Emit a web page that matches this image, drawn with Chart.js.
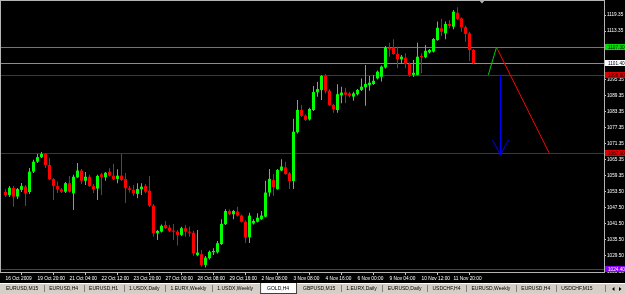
<!DOCTYPE html>
<html>
<head>
<meta charset="utf-8">
<script src="https://cdn.jsdelivr.net/npm/chart.js@4.4.1/dist/chart.umd.min.js"></script>
<style>
html, body { margin: 0; padding: 0; background: #000; overflow: hidden; }
canvas { display: block; }
</style>
</head>
<body>
<canvas id="gold" width="625" height="294"></canvas>
<script>
// GOLD,H4 - one entry per 4 hour bar, 16 Oct 2009 .. 12 Nov 2009
var opens = [
  1053.3, 1052.2, 1054.8, 1051.6, 1054.1, 1055.3, 1053.3, 1060.9, 1064.6, 1066.3,
  1067.5, 1063.4, 1058.1, 1055.5, 1054.3, 1053.4, 1056.6, 1052.8, 1058.8, 1061.3,
  1057.5, 1059.0, 1055.5, 1054.6, 1059.9, 1058.8, 1060.9, 1059.4, 1058.2, 1059.4,
  1058.1, 1054.7, 1054.1, 1052.6, 1054.4, 1055.5, 1053.8, 1048.2, 1037.9, 1038.5,
  1041.0, 1040.0, 1038.9, 1038.5, 1037.3, 1039.8, 1038.5, 1038.1, 1029.8, 1030.1,
  1026.1, 1028.6, 1030.8, 1030.8, 1033.9, 1041.3, 1046.2, 1045.0, 1046.0, 1044.5,
  1042.2, 1036.4, 1041.6, 1042.2, 1043.2, 1044.1, 1053.1, 1057.8, 1054.4, 1061.3,
  1062.5, 1060.3, 1057.4, 1075.6, 1083.9, 1081.8, 1080.4, 1083.9, 1090.5, 1091.4,
  1096.6, 1091.1, 1085.8, 1083.9, 1089.4, 1090.5, 1090.1, 1088.9, 1089.8, 1091.4,
  1092.4, 1093.2, 1093.6, 1095.7, 1096.3, 1099.8, 1107.0, 1107.2, 1104.8, 1102.8,
  1103.4, 1101.1, 1097.0, 1097.0, 1104.1, 1103.6, 1105.4, 1105.7, 1110.0, 1114.4,
  1112.5, 1116.0, 1115.0, 1120.2, 1118.1, 1114.8, 1112.5, 1106.3
];
var highs = [
  1054.4, 1055.5, 1055.5, 1054.8, 1056.7, 1055.9, 1062.3, 1065.3, 1067.5, 1068.2,
  1067.9, 1066.0, 1058.5, 1057.2, 1054.8, 1057.0, 1059.3, 1059.7, 1064.1, 1061.9,
  1060.8, 1059.7, 1056.3, 1059.7, 1060.4, 1060.8, 1062.2, 1063.8, 1061.8, 1067.5,
  1060.4, 1055.5, 1055.9, 1056.6, 1056.6, 1056.3, 1059.3, 1048.8, 1039.1, 1041.2,
  1042.5, 1041.0, 1041.4, 1039.1, 1040.3, 1041.0, 1040.4, 1038.8, 1039.1, 1031.7,
  1029.4, 1031.5, 1032.3, 1035.0, 1043.1, 1046.9, 1046.8, 1046.6, 1047.8, 1044.9,
  1042.7, 1045.6, 1043.1, 1045.4, 1046.2, 1057.5, 1061.9, 1060.0, 1061.9, 1065.5,
  1064.6, 1060.8, 1080.6, 1087.6, 1085.8, 1082.2, 1084.7, 1092.9, 1094.4, 1097.0,
  1097.3, 1091.6, 1086.2, 1093.5, 1092.6, 1092.2, 1090.7, 1090.7, 1091.7, 1095.7,
  1100.7, 1096.6, 1097.0, 1098.6, 1100.5, 1107.8, 1109.0, 1110.3, 1107.5, 1104.4,
  1105.1, 1101.6, 1102.6, 1109.0, 1105.1, 1108.2, 1106.7, 1110.8, 1116.9, 1117.9,
  1116.9, 1117.5, 1121.2, 1122.2, 1118.4, 1115.3, 1113.1, 1106.7
];
var lows = [
  1051.4, 1051.4, 1047.8, 1050.7, 1053.3, 1048.1, 1052.6, 1060.4, 1064.1, 1066.0,
  1062.3, 1057.8, 1050.3, 1052.9, 1052.9, 1052.9, 1053.1, 1046.6, 1058.5, 1056.3,
  1055.9, 1055.2, 1052.9, 1050.3, 1052.2, 1057.5, 1059.1, 1057.8, 1056.6, 1057.4,
  1049.2, 1053.1, 1051.8, 1051.0, 1052.2, 1052.9, 1047.7, 1036.6, 1035.4, 1038.2,
  1039.5, 1038.4, 1035.4, 1033.3, 1036.9, 1036.6, 1036.6, 1029.4, 1029.4, 1025.4,
  1025.1, 1028.1, 1029.8, 1030.4, 1033.5, 1041.0, 1044.6, 1043.1, 1044.2, 1041.9,
  1034.3, 1034.3, 1041.2, 1041.9, 1042.9, 1043.8, 1051.6, 1051.8, 1054.1, 1061.0,
  1059.7, 1054.4, 1054.4, 1075.1, 1081.3, 1079.8, 1080.0, 1083.5, 1088.8, 1087.6,
  1090.1, 1085.4, 1082.9, 1082.9, 1086.4, 1086.4, 1088.6, 1087.4, 1089.3, 1091.0,
  1085.5, 1091.1, 1093.2, 1095.3, 1094.5, 1099.4, 1103.8, 1104.4, 1099.5, 1101.3,
  1099.5, 1096.3, 1096.2, 1096.8, 1097.6, 1103.2, 1105.0, 1105.4, 1109.7, 1111.5,
  1110.3, 1114.4, 1114.0, 1117.5, 1113.1, 1109.4, 1102.2, 1101.1
];
var closes = [
  1052.2, 1054.9, 1051.6, 1054.4, 1055.5, 1052.8, 1060.9, 1064.6, 1066.3, 1067.5,
  1063.4, 1058.1, 1055.5, 1054.3, 1053.4, 1056.6, 1053.4, 1059.0, 1061.3, 1057.5,
  1059.0, 1055.5, 1054.3, 1059.3, 1058.8, 1060.5, 1059.4, 1058.1, 1059.4, 1057.8,
  1054.7, 1054.1, 1052.8, 1054.4, 1055.3, 1053.4, 1048.2, 1037.9, 1038.8, 1040.7,
  1039.8, 1038.8, 1038.5, 1037.3, 1039.8, 1038.5, 1038.1, 1030.4, 1030.7, 1026.1,
  1028.8, 1031.0, 1031.3, 1034.2, 1041.4, 1046.2, 1045.0, 1046.2, 1044.5, 1042.2,
  1036.3, 1044.5, 1042.5, 1043.7, 1044.5, 1053.1, 1058.2, 1055.1, 1061.5, 1062.8,
  1060.0, 1057.4, 1075.8, 1083.9, 1081.7, 1080.2, 1084.3, 1090.6, 1091.7, 1096.6,
  1091.1, 1085.8, 1084.2, 1089.8, 1090.4, 1089.6, 1089.2, 1090.1, 1091.4, 1092.6,
  1093.6, 1094.1, 1094.8, 1098.2, 1100.1, 1107.3, 1106.7, 1104.8, 1102.9, 1103.8,
  1101.1, 1097.0, 1097.8, 1103.8, 1103.6, 1106.0, 1106.3, 1110.4, 1114.6, 1113.1,
  1116.0, 1115.3, 1120.6, 1117.9, 1114.8, 1112.3, 1106.3, 1101.4
];

// time axis: one label every 8 bars
var timeLabels = [
  "16 Oct 2009", "19 Oct 20:00", "21 Oct 04:00", "22 Oct 12:00", "23 Oct 20:00",
  "27 Oct 00:00", "28 Oct 08:00", "29 Oct 16:00", "2 Nov 08:00", "3 Nov 08:00",
  "4 Nov 16:00", "6 Nov 00:00", "9 Nov 04:00", "10 Nov 12:00", "11 Nov 20:00"
];
var barsPerLabel = 8;

var priceTicks = [
  1119.35, 1113.35, 1107.35, 1101.35, 1095.35, 1089.35, 1083.35, 1077.35, 1071.35,
  1065.35, 1059.35, 1053.50, 1047.50, 1041.50, 1035.50, 1029.50, 1023.50
];

// horizontal levels (resistance, bid, support, target, low)
var levelPrices = [1107.30, 1101.40, 1096.90, 1067.90, 1024.40];

// hand drawn projection: small up leg, then the drop to target
var upLegX = [120.7, 122.75];
var upLegY = [1097.0, 1107.3];
var downLegX = [122.75, 135.9];
var downLegY = [1107.3, 1067.9];
var arrowX = 123.75;
var arrowTop = 1097.0;
var arrowBottom = 1067.1;
var arrowWing = 1072.7;

var tabNames = [
  "EURUSD,M15", "EURUSD,H4", "EURUSD,H1", "1.USDX,Daily", "1.EURX,Weekly", "1.USDX,Weekly",
  "GOLD,H4", "GBPUSD,M15", "1.EURX,Daily", "EURUSD,Daily", "USDCHF,H4", "EURUSD,Weekly",
  "EURUSD,H4", "USDCHF,M15"
];
var activeTab = "GOLD,H4";

// ---- styling ----
var FONT = "'Liberation Sans', Arial, sans-serif";
var BULL = '#00ff00';
var BEAR = '#ff0000';
var FRAME = '#b4b4b4';
var levelStyle = [
  { line: '#00c800', box: '#00e000', text: '#000000' },
  { line: '#8c8c8c', box: '#ffffff', text: '#000000' },
  { line: '#7c1c1c', box: '#e00000', text: '#000000' },
  { line: '#7c1c1c', box: '#e00000', text: '#000000' },
  { line: '#8a00ff', box: '#8a00ff', text: '#ffffff' }
];

var barColors = opens.map(function (o, i) { return closes[i] >= o ? BULL : BEAR; });

function pts(xs, ys) {
  return xs.map(function (x, i) { return { x: x, y: ys[i] }; });
}

var mtChrome = {
  id: 'mtChrome',
  beforeDraw: function (chart) {
    var c = chart.ctx;
    c.save();
    c.fillStyle = '#000';
    c.fillRect(0, 0, chart.width, chart.height);
    c.restore();
  },
  beforeDatasetsDraw: function (chart) {
    var c = chart.ctx, a = chart.chartArea, ys = chart.scales.y;
    c.save();
    c.lineWidth = 1;
    levelPrices.forEach(function (p, i) {
      var py = Math.round(ys.getPixelForValue(p)) + 0.5;
      c.strokeStyle = levelStyle[i].line;
      c.beginPath();
      c.moveTo(a.left, py);
      c.lineTo(a.right, py);
      c.stroke();
    });
    c.restore();
  },
  afterDraw: function (chart) {
    var c = chart.ctx, a = chart.chartArea, ys = chart.scales.y, xs = chart.scales.x;
    c.save();

    // frame top / left
    c.strokeStyle = FRAME;
    c.lineWidth = 1;
    c.beginPath();
    c.moveTo(0, 0.5); c.lineTo(a.right, 0.5);
    c.moveTo(0.5, 0); c.lineTo(0.5, a.bottom);
    c.stroke();

    // chart shift marker after the last bar
    var mx = Math.round(xs.getPixelForValue(opens.length + 1));
    c.fillStyle = FRAME;
    c.beginPath();
    c.moveTo(mx - 3, 0); c.lineTo(mx + 3, 0); c.lineTo(mx, 3.5); c.closePath();
    c.fill();

    // price boxes on the right scale
    c.font = '4.7px ' + FONT;
    c.textBaseline = 'middle';
    c.textAlign = 'left';
    levelPrices.forEach(function (p, i) {
      var py = Math.round(ys.getPixelForValue(p));
      c.fillStyle = levelStyle[i].box;
      c.fillRect(a.right + 1, py - 3, chart.width - a.right - 1, 6);
      c.fillStyle = levelStyle[i].text;
      c.fillText(p.toFixed(2), a.right + 4, py + 0.5);
    });

    // tab bar
    var top = chart.height - 11;
    c.fillStyle = '#d4d0c8';
    c.fillRect(0, top, chart.width, 11);
    c.fillStyle = '#ffffff';
    c.fillRect(0, top, chart.width, 1);
    c.font = '5px ' + FONT;
    c.textBaseline = 'middle';
    var x = 6, gap = 11;
    tabNames.forEach(function (name, i) {
      var w = c.measureText(name).width;
      var on = name === activeTab && tabNames.indexOf(name) === i;
      if (on) {
        x += 3;
        c.fillStyle = '#ffffff';
        c.fillRect(x - 7, top, w + 14, 11);
        c.fillStyle = '#404040';
        c.fillRect(x - 7, top, 1, 11);
        c.fillRect(x + w + 7, top, 1, 11);
        c.fillRect(x - 7, chart.height - 1, w + 15, 1);
      }
      c.fillStyle = '#000000';
      c.fillText(name, x, top + 6);
      x += w + (on ? 3 : 0);
      if (i < tabNames.length - 1 && !on && tabNames[i + 1] !== activeTab) {
        c.fillStyle = '#808080';
        c.fillRect(Math.round(x + gap / 2), top + 2, 1, 7);
      }
      x += gap;
    });
    // scroll arrows
    c.fillStyle = '#808080';
    c.fillRect(605, top + 2, 1, 7);
    c.fillStyle = '#000000';
    c.beginPath();
    c.moveTo(612, top + 6); c.lineTo(614.5, top + 4); c.lineTo(614.5, top + 8); c.closePath();
    c.moveTo(621.5, top + 6); c.lineTo(619, top + 4); c.lineTo(619, top + 8); c.closePath();
    c.fill();

    c.restore();
  }
};

Chart.defaults.font.family = FONT;

new Chart(document.getElementById('gold'), {
  type: 'bar',
  data: {
    datasets: [
      {
        type: 'line', label: 'up leg', data: pts(upLegX, upLegY),
        borderColor: '#00d000', borderWidth: 1, pointRadius: 0, fill: false, order: 0
      },
      {
        type: 'line', label: 'down leg', data: pts(downLegX, downLegY),
        borderColor: '#ff0000', borderWidth: 1, pointRadius: 0, fill: false, order: 0
      },
      {
        type: 'line', label: 'arrow', data: pts([arrowX, arrowX], [arrowTop, arrowBottom]),
        borderColor: '#0000ff', borderWidth: 1, pointRadius: 0, fill: false, order: 0
      },
      {
        type: 'line', label: 'arrow head',
        data: pts([arrowX - 2, arrowX, arrowX + 2], [arrowWing, arrowBottom, arrowWing]),
        borderColor: '#0000ff', borderWidth: 1, pointRadius: 0, fill: false, order: 0
      },
      {
        label: 'bodies',
        data: opens.map(function (o, i) { return { x: i, y: [o, closes[i]] }; }),
        backgroundColor: barColors, barThickness: 3, minBarLength: 1,
        grouped: false, inflateAmount: 0, order: 1
      },
      {
        label: 'wicks',
        data: opens.map(function (o, i) { return { x: i, y: [lows[i], highs[i]] }; }),
        backgroundColor: barColors, barThickness: 1,
        grouped: false, inflateAmount: 0, order: 2
      }
    ]
  },
  options: {
    responsive: false,
    animation: false,
    devicePixelRatio: 1,
    events: [],
    layout: { padding: { left: 0, right: 0, top: 0, bottom: 11 } },
    plugins: { legend: { display: false }, tooltip: { enabled: false } },
    scales: {
      x: {
        type: 'linear',
        offset: false,
        min: -1.375,
        max: 149.625,
        afterBuildTicks: function (s) {
          s.ticks = timeLabels.map(function (t, k) { return { value: k * barsPerLabel }; });
        },
        afterFit: function (s) { s.height = 11; s.paddingLeft = 0; s.paddingRight = 0; },
        ticks: {
          autoSkip: false, maxRotation: 0, minRotation: 0, align: 'start', padding: 1,
          color: '#ffffff', font: { size: 4.8 },
          callback: function (v, i) { return timeLabels[i]; }
        },
        grid: { drawOnChartArea: false, tickLength: 3, color: '#c8c8c8' },
        border: { color: FRAME }
      },
      y: {
        position: 'right',
        min: 1023.45,
        max: 1124.95,
        afterBuildTicks: function (s) {
          s.ticks = priceTicks.map(function (v) { return { value: v }; });
        },
        afterFit: function (s) { s.width = 21; s.paddingTop = 0; s.paddingBottom = 0; },
        ticks: {
          padding: 1, color: '#ffffff', font: { size: 4.7 },
          callback: function (v) { return v.toFixed(2); }
        },
        grid: { drawOnChartArea: false, tickLength: 2, color: '#c8c8c8' },
        border: { color: FRAME }
      }
    }
  },
  plugins: [mtChrome]
});
</script>
</body>
</html>
